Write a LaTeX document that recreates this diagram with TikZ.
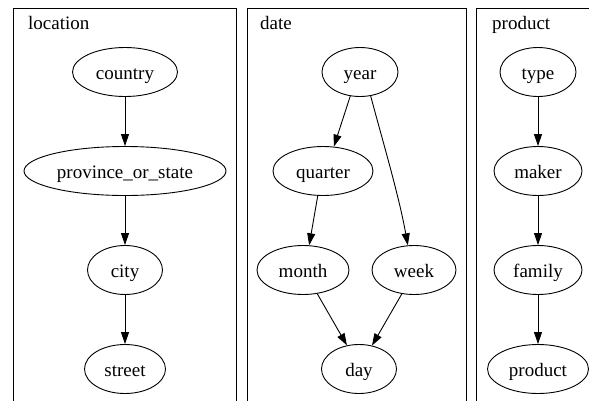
\documentclass[tikz,border=0pt]{standalone}
\usepackage{fontspec}
\setmainfont{Liberation Serif}
\usetikzlibrary{arrows.meta,shapes.geometric}
\tikzset{
  nd/.style={ellipse, draw, line width=0.9pt, inner sep=0pt, minimum height=49pt,
    text height=17pt, text depth=3pt, font=\fontsize{19}{22}\selectfont},
  edge/.style={line width=0.9pt, -{Triangle[length=12pt,width=8pt]}},
  cluster/.style={draw, line width=0.9pt},
  clabel/.style={anchor=base west, inner sep=0pt, font=\fontsize{19}{22}\selectfont}
}
\begin{document}
\begin{tikzpicture}[x=1pt,y=-1pt]
\useasboundingbox (0,0) rectangle (589,400);
\begin{scope}
\clip (0,0) rectangle (589,400);
\draw[cluster] (13,8) rectangle (236,420);
\draw[cluster] (247,8) rectangle (466,420);
\draw[cluster] (476.5,8) rectangle (640,420);
\end{scope}
\node[clabel] (lloc) at (28,29) {location};
\node[clabel] (ldate) at (260,29) {date};
\node[clabel] (lprod) at (492,29) {product};
% location
\node[nd, minimum width=105pt] (country) at (125,72) {country};
\node[nd, minimum width=202pt] (province) at (125,171) {province\_or\_state};
\node[nd, minimum width=75pt] (city) at (125,270) {city};
\node[nd, minimum width=81pt] (street) at (125,369) {street};
% date
\node[nd, minimum width=76pt] (year) at (360,72) {year};
\node[nd, minimum width=100pt] (quarter) at (323,171) {quarter};
\node[nd, minimum width=92pt] (month) at (303,270) {month};
\node[nd, minimum width=84pt] (week) at (414,270) {week};
\node[nd, minimum width=75pt] (day) at (359,369) {day};
% product
\node[nd, minimum width=76pt] (type) at (538,72) {type};
\node[nd, minimum width=88pt] (maker) at (538,171) {maker};
\node[nd, minimum width=88pt] (family) at (538,270) {family};
\node[nd, minimum width=101pt] (product) at (538,369) {product};
% edges
\draw[edge] (country) -- (province);
\draw[edge] (province) -- (city);
\draw[edge] (city) -- (street);
\draw[edge] (year.-112) -- (quarter.66);
\draw[edge] (year.-66) .. controls +(12,45) and +(-9,-50) .. (week.104);
\draw[edge] (quarter.-102) -- (month.76);
\draw[edge] (month.-59) -- (day.117);
\draw[edge] (week.-117) -- (day.61);
\draw[edge] (type) -- (maker);
\draw[edge] (maker) -- (family);
\draw[edge] (family) -- (product);
\end{tikzpicture}
\end{document}
